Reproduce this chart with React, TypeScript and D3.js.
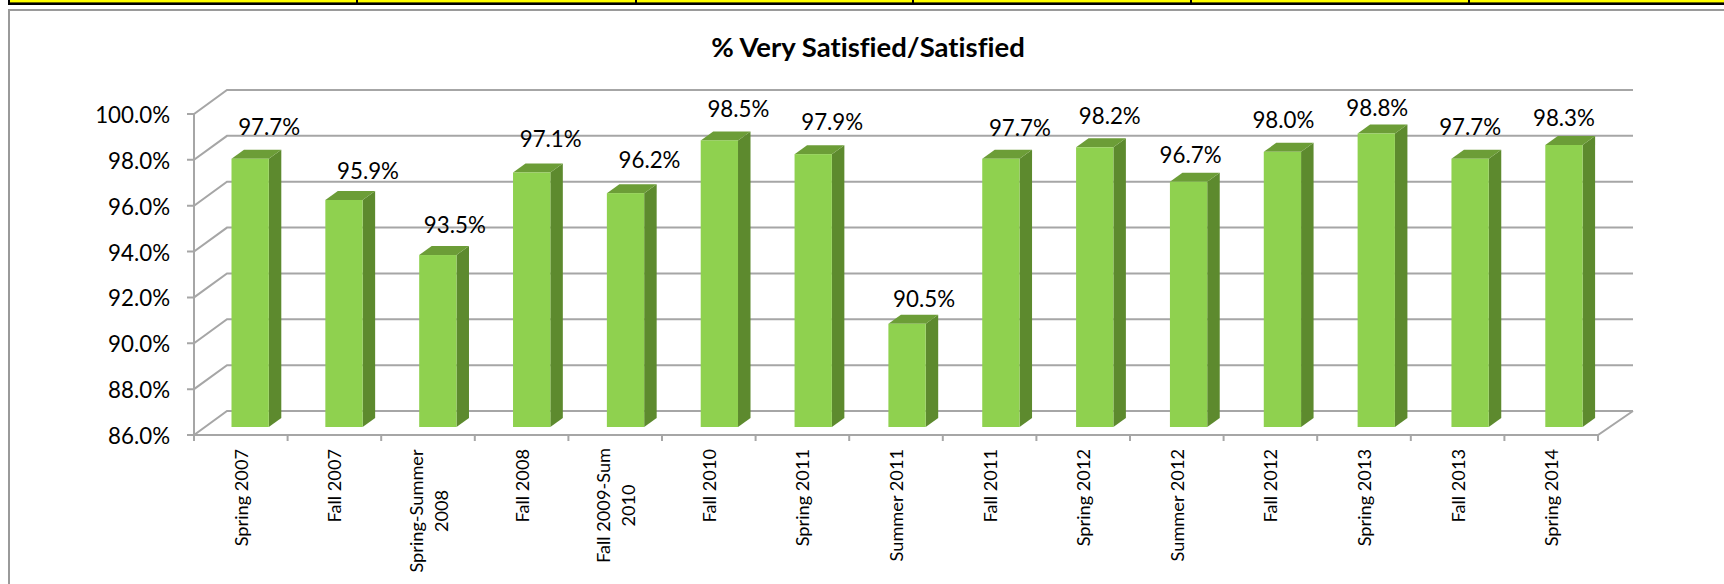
import React from "react";
import * as d3 from "d3";

const categories = ["Spring 2007", "Fall 2007", "Spring-Summer|2008", "Fall 2008", "Fall 2009-Sum|2010", "Fall 2010", "Spring 2011", "Summer 2011", "Fall 2011", "Spring 2012", "Summer 2012", "Fall 2012", "Spring 2013", "Fall 2013", "Spring 2014"];
const values = [97.7, 95.9, 93.5, 97.1, 96.2, 98.5, 97.9, 90.5, 97.7, 98.2, 96.7, 98.0, 98.8, 97.7, 98.3];
const yTicks = [86, 88, 90, 92, 94, 96, 98, 100];
const title = "% Very Satisfied/Satisfied";
// hand-placed data labels of the original, as offsets from each bar's top centre
const labelDx = [19, 24, 17, 19, 24, 19, 19, 17, 19, 15, 2, 1, 1, 0, 0];
const labelDy = [-24, -21, -22, -25, -25, -23, -24, -17, -23, -23, -19, -24, -18, -24, -19];
const dividers = [357, 636, 913, 1191, 1469];

const W = 1724, H = 584;
const font = "Lato, Carlito, sans-serif";
const GRID = "#a6a6a6";
const FRONT = "#8fd14f", SIDE = "#5d8a2e", TOP = "#6c9d37";

const y = d3.scaleLinear().domain([86, 100]).range([435, 114]);
const tickX = d3.scaleLinear().domain([0, categories.length]).range([194, 1598]);
const barX = d3.scalePoint<string>().domain(categories).range([231.5, 1545.3]);
const BAR_W = 37.3, SIDE_DX = 12.5, SIDE_DY = 9;
const BAR_SHIFT = -8, BACK_DX = 33, BACK_DY = -24;
const line = d3.line();

export default function App() {
  return (
    <svg width={W} height={H} style={{ position: "absolute", left: 0, top: 0, display: "block", background: "#fff", fontVariantLigatures: "none" }}>
      <style>{"body{margin:0}"}</style>
      {/* top strip */}
      <rect x={8} y={0} width={W - 8} height={5} fill="#000" />
      <rect x={10} y={0} width={W - 10} height={2.4} fill="#ffff00" />
      {dividers.map((d) => <rect key={d} x={d - 1} y={0} width={2} height={5} fill="#000" />)}
      {/* frame */}
      <path d={line([[9, H], [9, 10], [W, 10]]) ?? ""} fill="none" stroke="#9a9a9a" strokeWidth={2} />

      <text x={868} y={57} textAnchor="middle" fontFamily={font} fontWeight={700} fontSize={27.5} fill="#000">{title}</text>

      {/* wall and floor */}
      {yTicks.map((t) => (
        <g key={t} fill="none" stroke={GRID} strokeWidth={2}>
          <path d={line([[187, y(t)], [194, y(t)], [194 + BACK_DX, y(t) + BACK_DY], [1633, y(t) + BACK_DY]]) ?? ""} />
        </g>
      ))}
      <path d={line([[194, y(100)], [194, y(86)], [1598, y(86)], [1633, y(86) + BACK_DY]]) ?? ""} fill="none" stroke={GRID} strokeWidth={2} />
      {d3.range(categories.length + 1).map((i) => (
        <line key={i} x1={tickX(i)} x2={tickX(i)} y1={y(86)} y2={y(86) + 6} stroke={GRID} strokeWidth={2} />
      ))}

      {/* bars */}
      {categories.map((c, i) => {
        const x0 = barX(c) as number;
        const x1 = x0 + BAR_W;
        const t = y(values[i]) + BAR_SHIFT;
        const b = y(86) + BAR_SHIFT;
        return (
          <g key={c}>
            <path d={(line([[x1, t], [x1 + SIDE_DX, t - SIDE_DY], [x1 + SIDE_DX, b - SIDE_DY], [x1, b]]) ?? "") + "Z"} fill={SIDE} />
            <path d={(line([[x0, t], [x0 + SIDE_DX, t - SIDE_DY], [x1 + SIDE_DX, t - SIDE_DY], [x1, t]]) ?? "") + "Z"} fill={TOP} />
            <rect x={x0} y={t} width={BAR_W} height={b - t} fill={FRONT} />
          </g>
        );
      })}

      {/* y tick labels */}
      {yTicks.map((t) => (
        <text key={t} x={170} y={y(t) + 9} textAnchor="end" fontFamily={font} fontSize={22.3} fill="#000">{t.toFixed(1)}%</text>
      ))}

      {/* data labels */}
      {categories.map((c, i) => (
        <text key={c} x={(barX(c) as number) + BAR_W / 2 + labelDx[i]} y={y(values[i]) + BAR_SHIFT + labelDy[i]} textAnchor="middle" fontFamily={font} fontSize={22.3} fill="#000">
          {values[i].toFixed(1)}%
        </text>
      ))}

      {/* category labels */}
      {categories.map((c, i) => {
        const cx = (tickX(i) + tickX(i + 1)) / 2;
        const parts = c.split("|");
        if (parts.length === 1) {
          return (
            <text key={c} transform={`translate(${cx + 7},449) rotate(-90)`} textAnchor="end" fontFamily={font} fontSize={18.2} fill="#000">{c}</text>
          );
        }
        return (
          <g key={c}>
            {parts.map((p, k) => (
              <text key={p} transform={`translate(${cx - 5 + k * 25},${i === 2 ? 511 : 505.5}) rotate(-90)`} textAnchor="middle" fontFamily={font} fontSize={18.2} fill="#000">{p}</text>
            ))}
          </g>
        );
      })}
    </svg>
  );
}
